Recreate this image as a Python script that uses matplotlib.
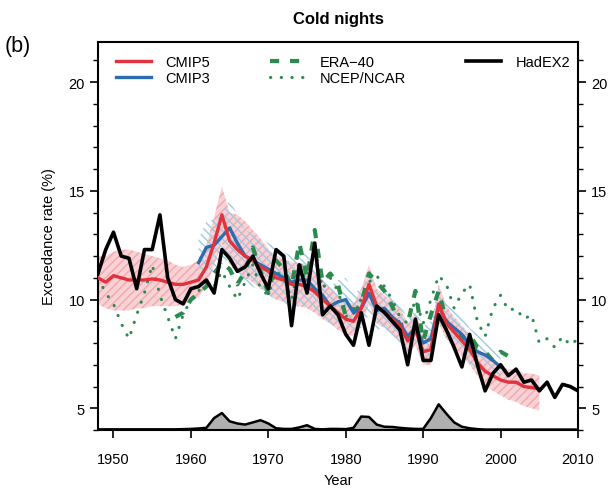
import numpy as np
import matplotlib
matplotlib.use("Agg")
import matplotlib.pyplot as plt
from matplotlib.ticker import MultipleLocator

plt.rcParams['font.family'] = ['Liberation Sans', 'DejaVu Sans']

# ---------------- data ----------------
years_c5 = list(range(1948, 2006))
cmip5 = [11.0,10.8,11.1,11.0,10.9,10.9,10.9,10.95,10.9,10.8,
         10.7,10.7,10.8,10.9,11.5,12.6,13.9,12.7,12.3,12.0,
         11.8,11.5,11.3,11.0,10.9,10.7,10.7,10.6,10.35,10.0,
         9.7,9.4,9.1,9.0,9.6,10.7,9.7,9.4,9.1,8.8,
         8.1,8.6,7.6,7.7,9.8,8.9,8.5,8.1,7.7,7.1,
         6.7,6.5,6.3,6.2,6.2,6.0,5.95,5.9]
cmip5_lo = [9.8,9.6,9.5,9.5,9.5,9.6,9.6,9.7,9.7,9.7,
            9.7,9.8,9.9,10.1,10.6,11.6,12.6,11.6,11.3,11.0,
            10.8,10.5,10.3,10.0,9.9,9.7,9.7,9.6,9.4,9.1,
            8.9,8.6,8.4,8.3,8.8,9.8,8.9,8.7,8.4,8.1,
            7.4,7.9,7.0,7.0,8.9,8.2,7.8,7.4,7.0,6.5,
            6.0,5.8,5.6,5.4,5.3,5.1,5.0,4.9]
cmip5_hi = [12.0,12.0,12.2,12.3,12.3,12.2,12.1,12.0,11.9,11.8,
            11.6,11.5,11.6,11.8,12.5,13.8,15.2,14.0,13.9,13.6,
            13.2,12.8,12.3,12.0,11.9,11.7,11.7,11.6,11.3,10.9,
            10.5,10.2,9.9,9.8,10.5,11.6,10.5,10.2,9.9,9.6,
            8.9,9.4,8.4,8.5,10.7,9.7,9.2,8.8,8.4,7.8,
            7.4,7.1,6.9,6.8,6.8,6.6,6.6,6.5]

years_c3 = list(range(1961, 2001))
cmip3 = [11.7,12.4,12.5,12.9,13.3,12.6,12.0,11.8,11.6,11.4,
         11.2,11.0,10.8,10.9,10.9,10.5,10.2,9.7,9.9,10.0,
         9.4,9.6,10.3,9.5,9.6,9.2,8.9,8.3,8.7,8.0,
         8.2,9.7,9.0,8.7,8.4,7.9,7.6,7.45,7.2,6.9]
cmip3_lo = [10.6,11.2,11.3,11.6,11.9,11.3,10.8,10.6,10.4,10.2,
            10.0,9.8,9.6,9.7,9.7,9.4,9.2,8.8,8.9,9.0,
            8.5,8.7,9.3,8.6,8.7,8.3,8.0,7.5,7.9,7.2,
            7.4,8.8,8.2,7.9,7.6,7.1,6.8,6.7,6.5,6.3]
cmip3_hi = [12.8,13.6,13.7,14.0,14.6,13.9,13.2,13.0,12.8,12.6,
            12.4,12.2,12.0,12.1,12.1,11.6,11.2,10.6,10.9,11.0,
            10.3,10.5,11.3,10.4,10.5,10.1,9.8,9.1,9.5,8.8,
            9.0,10.6,9.8,9.5,9.2,8.7,8.4,8.2,7.9,7.5]

years_era = list(range(1958, 2002))
era40 = [9.2,9.4,10.0,10.3,10.6,11.2,11.7,11.4,10.7,11.3,
         12.4,11.3,10.3,11.8,11.4,10.6,12.6,11.0,13.2,10.8,
         11.2,10.7,9.2,9.4,9.8,11.2,10.8,10.4,9.7,8.8,
         8.9,10.4,8.1,9.3,10.4,9.0,8.5,8.2,8.4,7.8,
         7.6,7.2,7.6,7.4]

years_full = list(range(1948, 2011))
ncep = [11.0,10.3,9.8,8.9,8.2,9.3,10.3,11.6,10.2,9.2,
        8.2,9.3,10.0,10.4,10.8,10.6,11.3,10.6,10.0,10.8,
        11.6,10.5,10.2,11.3,11.0,10.0,11.8,10.6,12.4,10.5,
        11.0,10.4,9.2,9.6,10.0,10.8,11.1,10.6,10.0,9.2,
        8.9,10.0,8.9,10.0,11.1,10.7,9.6,10.3,10.7,9.0,
        8.3,9.6,10.2,9.5,9.6,9.1,9.3,8.0,8.2,7.8,
        8.3,7.9,8.2]
hadex2 = [11.2,12.3,13.1,12.0,11.9,10.5,12.3,12.3,13.9,11.0,
          10.0,9.8,10.5,10.6,10.9,10.3,12.3,11.9,11.3,11.5,
          12.0,11.2,10.5,12.3,12.0,8.8,11.6,10.3,12.6,9.3,
          9.7,9.3,8.4,7.9,9.4,7.9,9.7,9.4,9.0,8.6,
          7.0,9.1,7.2,7.2,9.3,8.6,7.8,6.9,8.4,7.0,
          5.8,6.6,7.0,6.5,6.8,6.2,6.3,5.8,6.2,5.5,
          6.1,6.0,5.8]
volcanic = [4.03,4.03,4.03,4.03,4.03,4.03,4.03,4.03,4.03,4.03,
            4.03,4.04,4.05,4.07,4.1,4.55,4.78,4.4,4.3,4.25,
            4.35,4.45,4.3,4.08,4.05,4.05,4.12,4.22,4.05,4.03,
            4.05,4.05,4.04,4.1,4.62,4.6,4.25,4.15,4.14,4.1,
            4.07,4.05,4.05,4.55,5.18,4.75,4.35,4.15,4.08,4.04,
            4.02,4.02,4.02,4.02,4.02,4.02,4.02,4.02,4.02,4.02,
            4.02,4.02,4.02]

x_ticks = [1950, 1960, 1970, 1980, 1990, 2000, 2010]
y_ticks = [5, 10, 15, 20]

# ---------------- figure ----------------
fig = plt.figure(figsize=(6.14, 4.89), dpi=100)
ax = fig.add_axes([0.1596, 0.1186, 0.7818, 0.7935])

red = '#e3323b'
blue = '#2c6db0'
green = '#2a8a4f'

# envelopes
ax.fill_between(years_c5, cmip5_lo, cmip5_hi, facecolor='#f6c3c7', edgecolor='none', alpha=0.75, zorder=1)
ax.fill_between(years_c5, cmip5_lo, cmip5_hi, facecolor='none', edgecolor='#f2a8ae', hatch='////', linewidth=0, zorder=1)
ax.fill_between(years_c3, cmip3_lo, cmip3_hi, facecolor='none', edgecolor='#9ccbe4', hatch='\\\\\\\\', linewidth=0, zorder=2)

# volcanic
ax.fill_between(years_full, 4.0, volcanic, facecolor='#b0b0b0', edgecolor='none', zorder=2)
ax.plot(years_full, volcanic, color='black', lw=1.8, zorder=3)

# series
ax.plot(years_full, ncep, color=green, lw=2.2, linestyle=(0, (0.1, 3.4)),
        dash_capstyle='round', label='NCEP/NCAR', zorder=4)
ax.plot(years_era, era40, color=green, lw=3.0, linestyle=(0, (2.2, 2.6)),
        label='ERA\u221240', zorder=4)
ax.plot(years_c3, cmip3, color=blue, lw=2.4, label='CMIP3', zorder=5)
ax.plot(years_c5, cmip5, color=red, lw=2.4, label='CMIP5', zorder=6)
ax.plot(years_full, hadex2, color='black', lw=2.6, label='HadEX2', zorder=7)

ax.set_xlim(1948, 2010)
ax.set_ylim(4.0, 21.85)
ax.set_xticks(x_ticks)
ax.set_yticks(y_ticks)
ax.yaxis.set_minor_locator(MultipleLocator(1))
ax.tick_params(axis='both', which='major', direction='out', length=6, width=1.2, labelsize=10.5)
ax.tick_params(axis='y', which='minor', direction='out', length=3.5, width=1.0)
ax.tick_params(axis='y', which='both', right=True, labelright=True)
ax.tick_params(axis='x', pad=10)
for s in ax.spines.values():
    s.set_linewidth(1.5)

ax.set_xlabel('Year', fontsize=10.5, labelpad=5)
ax.set_ylabel('Exceedance rate (%)', fontsize=10.5, labelpad=9)
ax.set_title('Cold nights', fontsize=12, fontweight='bold', pad=14)
fig.text(0.008, 0.893, '(b)', fontsize=15.5)

handles, labels = ax.get_legend_handles_labels()
order = ['CMIP5', 'CMIP3', 'ERA\u221240', 'NCEP/NCAR', 'HadEX2']
hmap = dict(zip(labels, handles))
leg = ax.legend([hmap[k] for k in order], order, loc='upper left',
                bbox_to_anchor=(0.01, 1.0), ncol=3, frameon=False,
                fontsize=10.5, handlelength=2.4, columnspacing=4.1,
                labelspacing=0.15, handletextpad=1.0)

fig.savefig('out.png', dpi=100)
